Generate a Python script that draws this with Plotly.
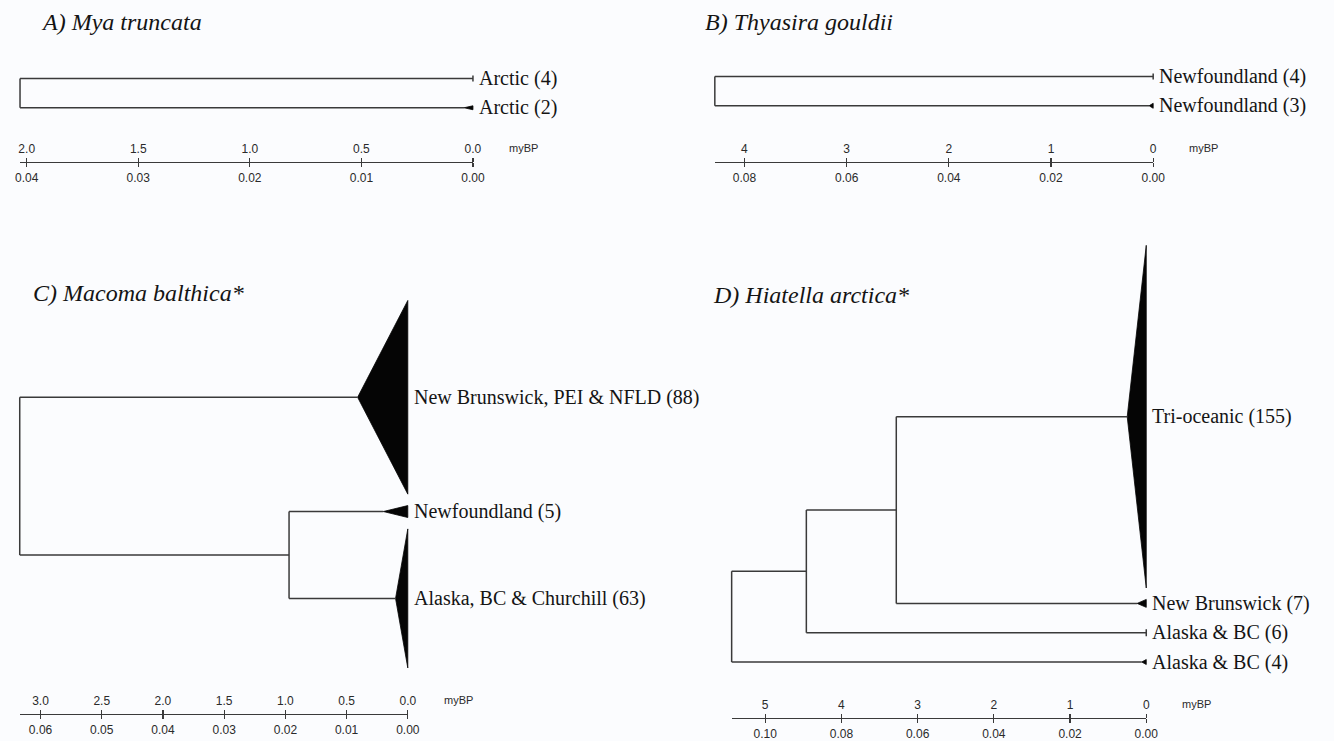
import plotly.graph_objects as go

W, H = 1334, 741

# ---------------- data (ages in myBP; clade span = height of collapsed clade) ----------------
A_title = "A) Mya truncata"
A_tips = ["Arctic (4)", "Arctic (2)"]
A_clade_age = [0.0, 0.04]
A_clade_span = [6, 4]
A_node_age = [2.03]
A_node_children = [[0, 1]]
A_myBP_ticks = [2.0, 1.5, 1.0, 0.5, 0.0]
A_myBP_labels = ["2.0", "1.5", "1.0", "0.5", "0.0"]
A_dist_labels = ["0.04", "0.03", "0.02", "0.01", "0.00"]

B_title = "B) Thyasira gouldii"
B_tips = ["Newfoundland (4)", "Newfoundland (3)"]
B_clade_age = [0.0, 0.04]
B_clade_span = [6, 5]
B_node_age = [4.29]
B_node_children = [[0, 1]]
B_myBP_ticks = [4, 3, 2, 1, 0]
B_myBP_labels = ["4", "3", "2", "1", "0"]
B_dist_labels = ["0.08", "0.06", "0.04", "0.02", "0.00"]

C_title = "C) Macoma balthica*"
C_tips = ["New Brunswick, PEI & NFLD (88)", "Newfoundland (5)", "Alaska, BC & Churchill (63)"]
C_clade_age = [0.41, 0.20, 0.10]
C_clade_span = [195, 12, 140]
C_node_age = [0.97, 3.17]
C_node_children = [[1, 2], [0, 3]]
C_myBP_ticks = [3.0, 2.5, 2.0, 1.5, 1.0, 0.5, 0.0]
C_myBP_labels = ["3.0", "2.5", "2.0", "1.5", "1.0", "0.5", "0.0"]
C_dist_labels = ["0.06", "0.05", "0.04", "0.03", "0.02", "0.01", "0.00"]

D_title = "D) Hiatella arctica*"
D_tips = ["Tri-oceanic (155)", "New Brunswick (7)", "Alaska & BC (6)", "Alaska & BC (4)"]
D_clade_age = [0.25, 0.12, 0.0, 0.06]
D_clade_span = [345, 8, 7, 5]
D_node_age = [3.28, 4.46, 5.44]
D_node_children = [[0, 1], [4, 2], [5, 3]]
D_myBP_ticks = [5, 4, 3, 2, 1, 0]
D_myBP_labels = ["5", "4", "3", "2", "1", "0"]
D_dist_labels = ["0.10", "0.08", "0.06", "0.04", "0.02", "0.00"]

# ---------------- layout (pixel frames of each panel) ----------------
FRAMES = [
    dict(zero_px=474, ppu=226.0, tip0_px=79, scale_px=163, title_px=(34, 22)),
    dict(zero_px=1163, ppu=103.5, tip0_px=77, scale_px=163, title_px=(707, 22)),
    dict(zero_px=408, ppu=124.0, tip0_px=400, scale_px=719, title_px=(26, 295)),
    dict(zero_px=1156, ppu=77.2, tip0_px=419.5, scale_px=723, title_px=(715, 297)),
]
ROW = 29.5
GAP = 11.5
LINE_COL = "#3a3a3a"
TXT_COL = "#141414"
SERIF = "Liberation Serif, Times New Roman, serif"
SANS = "Liberation Sans, Arial, sans-serif"

PANELS = [
    (A_title, A_tips, A_clade_age, A_clade_span, A_node_age, A_node_children, A_myBP_ticks, A_myBP_labels, A_dist_labels),
    (B_title, B_tips, B_clade_age, B_clade_span, B_node_age, B_node_children, B_myBP_ticks, B_myBP_labels, B_dist_labels),
    (C_title, C_tips, C_clade_age, C_clade_span, C_node_age, C_node_children, C_myBP_ticks, C_myBP_labels, C_dist_labels),
    (D_title, D_tips, D_clade_age, D_clade_span, D_node_age, D_node_children, D_myBP_ticks, D_myBP_labels, D_dist_labels),
]


def ax(prefix, i):
    return prefix + ("" if i == 1 else str(i))


fig = go.Figure()
layout = dict(
    width=W, height=H, margin=dict(l=0, r=0, t=0, b=0),
    paper_bgcolor="#fbfcfe", plot_bgcolor="rgba(0,0,0,0)", showlegend=False,
)
annotations = []

for k, (panel, fr) in enumerate(zip(PANELS, FRAMES), start=1):
    title, tips, cage, cspan, nage, nchild, ticks, tlabels, dlabels = panel
    n = len(tips)
    # tip vertical positions (stacked by clade size)
    ys = [0.0]
    for i in range(1, n):
        ys.append(ys[-1] + max(ROW, cspan[i - 1] / 2 + cspan[i] / 2 + GAP))
    xpos = list(cage)
    ypos = list(ys)
    for a, ch in zip(nage, nchild):
        xpos.append(a)
        ypos.append((ypos[ch[0]] + ypos[ch[-1]]) / 2)

    lx, ly = [], []
    for j, (a, ch) in enumerate(zip(nage, nchild)):
        lx += [a, a, None]
        ly += [ypos[ch[0]], ypos[ch[-1]], None]
        for c in ch:
            lx += [a, xpos[c], None]
            ly += [ypos[c], ypos[c], None]
    tx, ty = [], []
    for i in range(n):
        if cage[i] == 0:
            lx += [0, 0, None]
            ly += [ys[i] - cspan[i] / 2, ys[i] + cspan[i] / 2, None]
        else:
            tx += [cage[i], 0, 0, cage[i], None]
            ty += [ys[i], ys[i] - cspan[i] / 2, ys[i] + cspan[i] / 2, ys[i], None]

    xa, ya = ax("x", k), ax("y", k)
    fig.add_trace(go.Scatter(x=tx, y=ty, mode="lines", fill="toself", fillcolor="#050505",
                             line=dict(color="#050505", width=0.8), xaxis=xa, yaxis=ya, hoverinfo="skip"))
    fig.add_trace(go.Scatter(x=lx, y=ly, mode="lines", line=dict(color=LINE_COL, width=1.5),
                             xaxis=xa, yaxis=ya, hoverinfo="skip"))

    root = nage[-1]
    zero, ppu = fr["zero_px"], fr["ppu"]
    left_px = zero - root * ppu - 8
    right_px = zero + 8
    top_px = fr["tip0_px"] - cspan[0] / 2 - 10
    bot_px = fr["tip0_px"] + ys[-1] + cspan[-1] / 2 + 10
    hidden = dict(visible=False, showgrid=False, zeroline=False, fixedrange=True)
    layout[ax("xaxis", k)] = dict(hidden, domain=[left_px / W, right_px / W],
                                  range=[(zero - left_px) / ppu, (zero - right_px) / ppu], anchor=ya)
    layout[ax("yaxis", k)] = dict(hidden, domain=[1 - bot_px / H, 1 - top_px / H],
                                  range=[bot_px - fr["tip0_px"], top_px - fr["tip0_px"]], anchor=xa)

    # scale bar: two axes on the same line (myBP above, distance below)
    kb, kt = 4 + k, 8 + k
    pos = 1 - fr["scale_px"] / H
    sdom = [(zero - root * ppu) / W, zero / W]
    common = dict(range=[root, 0], showgrid=False, zeroline=False, showline=True, linecolor=LINE_COL,
                  linewidth=1.3, ticks="outside", ticklen=4, tickwidth=1.2, tickcolor=LINE_COL,
                  tickvals=ticks, tickfont=dict(family=SANS, size=12, color="#2a2a2a"),
                  anchor="free", position=pos, fixedrange=True, ticklabelstandoff=0)
    layout[ax("xaxis", kb)] = dict(common, domain=sdom, side="bottom", ticktext=dlabels)
    layout[ax("xaxis", kt)] = dict(common, overlaying=ax("x", kb), side="top", ticktext=tlabels)
    layout[ax("yaxis", kb)] = dict(hidden, domain=[pos, pos + 0.01], anchor=ax("x", kb))
    fig.add_trace(go.Scatter(x=[], y=[], xaxis=ax("x", kb), yaxis=ax("y", kb)))
    fig.add_trace(go.Scatter(x=[], y=[], xaxis=ax("x", kt), yaxis=ax("y", kb)))

    # tip labels
    for i in range(n):
        annotations.append(dict(x=0, y=ys[i], xref=xa, yref=ya, text=tips[i], showarrow=False,
                                xanchor="left", yanchor="middle", xshift=4,
                                font=dict(family=SERIF, size=20, color=TXT_COL)))
    # myBP unit label
    annotations.append(dict(x=0, y=pos, xref=ax("x", kb), yref="paper", text="myBP", showarrow=False,
                            xanchor="left", yanchor="middle", xshift=34, yshift=14,
                            font=dict(family=SANS, size=11, color="#2a2a2a")))
    # panel title
    annotations.append(dict(x=fr["title_px"][0] / W, y=1 - fr["title_px"][1] / H, xref="paper", yref="paper",
                            text="<i>" + title + "</i>", showarrow=False, xanchor="left", yanchor="middle",
                            font=dict(family=SERIF, size=24, color=TXT_COL)))

layout["annotations"] = annotations
fig.update_layout(**layout)
fig.write_html("out.html", config={"displayModeBar": False, "staticPlot": True},
               post_script="document.body.style.margin='0px';document.body.style.overflow='hidden';")
